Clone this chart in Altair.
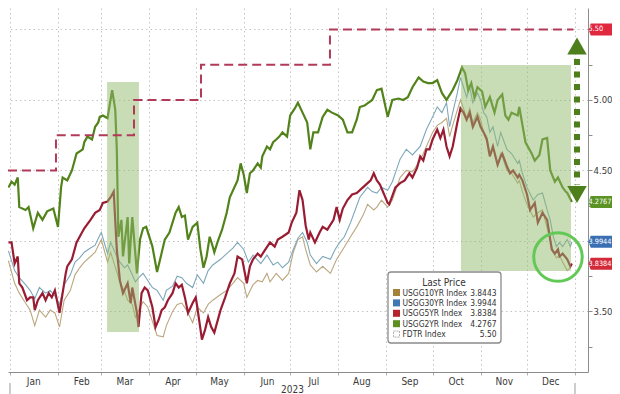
import altair as alt
import pandas as pd

BASE = pd.Timestamp("2023-01-01")
FONT = "Liberation Sans Narrow, DejaVu Sans Condensed, Liberation Sans, sans-serif"

# ---- data: (day of 2023, yield %) -------------------------------------------
usgg2yr = [(-1, 4.38), (1, 4.42), (3, 4.40), (5, 4.45), (6, 4.24), (10, 4.22), (12, 4.24), (15, 4.09),
           (18, 4.20), (21, 4.15), (24, 4.21), (28, 4.23), (31, 4.10), (33, 4.38), (34, 4.45), (37, 4.43),
           (40, 4.50), (43, 4.62), (47, 4.65), (48, 4.70), (50, 4.74), (53, 4.72), (55, 4.81), (57, 4.84),
           (58, 4.88), (60, 4.89), (63, 4.87), (66, 5.07), (68, 4.93), (69, 4.65), (70, 4.03), (72, 4.15),
           (73, 3.89), (76, 4.17), (77, 3.84), (79, 4.17), (80, 4.04), (82, 3.77), (84, 4.01), (86, 4.09),
           (88, 4.10), (92, 3.96), (95, 3.78), (97, 3.87), (100, 4.01), (103, 4.06), (107, 4.20), (109, 4.24),
           (111, 4.17), (113, 4.18), (115, 4.01), (118, 4.10), (121, 4.13), (123, 3.94), (125, 3.81), (127, 3.89),
           (129, 4.03), (131, 3.96), (132, 3.92), (134, 3.99), (137, 4.08), (140, 4.20), (142, 4.31), (147, 4.43),
           (149, 4.55), (151, 4.47), (153, 4.34), (155, 4.48), (157, 4.50), (160, 4.55), (162, 4.52), (163, 4.60),
           (166, 4.67), (168, 4.65), (170, 4.70), (172, 4.72), (174, 4.74), (176, 4.77), (179, 4.74), (181, 4.89),
           (184, 4.94), (186, 4.98), (189, 4.91), (192, 4.84), (194, 4.65), (196, 4.77), (199, 4.77), (202, 4.88),
           (205, 4.93), (208, 4.91), (212, 4.89), (215, 4.86), (218, 4.77), (221, 4.77), (224, 4.86), (226, 4.95),
           (229, 4.96), (234, 5.00), (237, 5.07), (240, 5.08), (244, 4.88), (247, 5.00), (251, 5.01), (254, 5.00),
           (257, 5.02), (260, 5.09), (264, 5.16), (267, 5.13), (270, 5.12), (273, 5.12), (276, 5.14), (279, 5.05),
           (282, 5.00), (286, 5.07), (289, 5.14), (292, 5.23), (294, 5.19), (296, 5.07), (298, 5.12), (300, 5.02),
           (302, 5.09), (305, 5.06), (307, 4.95), (310, 5.02), (313, 4.91), (315, 5.00), (318, 5.04), (320, 4.89),
           (322, 4.86), (324, 4.91), (328, 4.89), (329, 4.95), (333, 4.70), (335, 4.66), (337, 4.62), (339, 4.57),
           (342, 4.61), (344, 4.72), (347, 4.73), (349, 4.50), (352, 4.42), (354, 4.45), (357, 4.38), (359, 4.35),
           (360, 4.34), (363, 4.2767)]

usgg5yr = [(-1, 3.99), (1, 3.99), (3, 3.84), (5, 3.89), (6, 3.70), (8, 3.67), (11, 3.58), (13, 3.60),
           (15, 3.60), (16, 3.51), (18, 3.58), (21, 3.63), (23, 3.58), (25, 3.63), (27, 3.60), (29, 3.65),
           (32, 3.49), (36, 3.77), (37, 3.82), (40, 3.87), (43, 3.99), (45, 4.03), (48, 4.09), (52, 4.15),
           (55, 4.20), (58, 4.22), (60, 4.27), (63, 4.28), (65, 4.31), (67, 4.35), (69, 3.94), (71, 3.72),
           (73, 3.63), (76, 3.70), (78, 3.56), (79, 3.67), (82, 3.49), (83, 3.39), (85, 3.63), (87, 3.67),
           (89, 3.65), (92, 3.53), (94, 3.39), (96, 3.44), (98, 3.51), (100, 3.53), (102, 3.58), (105, 3.63),
           (107, 3.70), (109, 3.67), (111, 3.69), (113, 3.60), (115, 3.49), (118, 3.56), (120, 3.60), (121, 3.53),
           (124, 3.30), (126, 3.37), (128, 3.46), (130, 3.39), (132, 3.35), (136, 3.51), (139, 3.60), (142, 3.70),
           (145, 3.77), (147, 3.89), (150, 3.87), (153, 3.70), (155, 3.82), (157, 3.87), (160, 3.91), (162, 3.89),
           (165, 3.94), (168, 3.99), (171, 3.96), (173, 4.01), (176, 4.03), (180, 4.06), (182, 4.13), (185, 4.20),
           (187, 4.36), (189, 4.29), (191, 4.11), (193, 4.01), (194, 4.06), (197, 3.99), (200, 4.06), (202, 4.10),
           (205, 4.08), (209, 4.15), (211, 4.24), (213, 4.15), (215, 4.23), (218, 4.29), (221, 4.33), (224, 4.34),
           (228, 4.38), (233, 4.43), (235, 4.48), (237, 4.43), (239, 4.40), (244, 4.27), (245, 4.26), (249, 4.38),
           (252, 4.41), (255, 4.43), (258, 4.48), (260, 4.45), (263, 4.52), (265, 4.60), (267, 4.57), (269, 4.65),
           (271, 4.65), (273, 4.72), (276, 4.79), (278, 4.73), (280, 4.79), (282, 4.67), (284, 4.60), (286, 4.67),
           (289, 4.84), (291, 4.94), (293, 4.91), (295, 4.86), (297, 4.91), (299, 4.81), (302, 4.88), (304, 4.81),
           (306, 4.77), (308, 4.72), (310, 4.60), (312, 4.67), (315, 4.54), (317, 4.60), (318, 4.62), (321, 4.53),
           (323, 4.48), (325, 4.50), (328, 4.45), (329, 4.47), (331, 4.43), (334, 4.33), (336, 4.22), (339, 4.27),
           (341, 4.13), (344, 4.20), (347, 4.15), (349, 4.01), (350, 3.94), (352, 3.91), (354, 3.94), (355, 3.89),
           (357, 3.91), (360, 3.87), (362, 3.82), (363, 3.8384)]

usgg30yr = [(-1, 3.93), (3, 3.79), (6, 3.74), (10, 3.69), (13, 3.65), (16, 3.59), (19, 3.67), (23, 3.63),
            (26, 3.65), (29, 3.61), (32, 3.55), (35, 3.69), (39, 3.76), (42, 3.85), (45, 3.88), (48, 3.92),
            (52, 3.95), (55, 3.97), (58, 4.04), (59, 4.06), (63, 3.91), (65, 3.99), (67, 3.94), (69, 3.89),
            (71, 3.85), (74, 3.81), (76, 3.83), (79, 3.76), (81, 3.71), (84, 3.75), (86, 3.77), (89, 3.72),
            (92, 3.67), (95, 3.65), (99, 3.58), (101, 3.65), (105, 3.68), (108, 3.75), (111, 3.74), (114, 3.70),
            (118, 3.67), (121, 3.76), (125, 3.70), (128, 3.79), (131, 3.83), (136, 3.87), (140, 3.91), (144, 3.95),
            (147, 3.99), (151, 3.94), (154, 3.85), (157, 3.90), (162, 3.84), (166, 3.90), (170, 3.83), (173, 3.85),
            (176, 3.81), (180, 3.85), (183, 3.94), (186, 4.02), (189, 4.06), (192, 3.99), (194, 3.90), (198, 3.84),
            (202, 3.89), (207, 3.87), (210, 3.94), (213, 3.99), (216, 4.03), (220, 4.13), (223, 4.22), (226, 4.31),
            (231, 4.38), (234, 4.35), (237, 4.34), (240, 4.38), (244, 4.36), (247, 4.42), (252, 4.58), (256, 4.65),
            (260, 4.61), (265, 4.67), (269, 4.79), (273, 4.88), (276, 4.95), (279, 4.91), (282, 4.98), (284, 4.81),
            (286, 4.91), (289, 5.05), (291, 5.16), (293, 5.09), (295, 5.02), (297, 5.09), (299, 4.98), (302, 5.05),
            (304, 5.00), (306, 4.91), (308, 4.88), (310, 4.77), (312, 4.81), (315, 4.67), (317, 4.77), (318, 4.74),
            (321, 4.65), (324, 4.62), (328, 4.55), (329, 4.57), (331, 4.48), (334, 4.38), (338, 4.29), (341, 4.33),
            (344, 4.34), (347, 4.22), (349, 4.15), (351, 4.03), (353, 3.96), (355, 3.99), (357, 3.96), (360, 4.01),
            (362, 3.96), (363, 3.9944)]

usgg10yr = [(-1, 3.86), (3, 3.70), (6, 3.63), (10, 3.56), (13, 3.51), (16, 3.40), (19, 3.51), (23, 3.46),
            (26, 3.51), (29, 3.49), (32, 3.39), (35, 3.58), (39, 3.65), (42, 3.76), (45, 3.81), (48, 3.85),
            (52, 3.89), (55, 3.92), (58, 3.99), (59, 4.01), (63, 3.85), (65, 3.92), (67, 3.85), (69, 3.78),
            (71, 3.71), (74, 3.64), (76, 3.58), (79, 3.55), (81, 3.46), (84, 3.53), (86, 3.57), (89, 3.53),
            (92, 3.43), (95, 3.33), (99, 3.32), (101, 3.40), (105, 3.50), (108, 3.55), (111, 3.56), (114, 3.51),
            (118, 3.42), (121, 3.53), (125, 3.49), (128, 3.55), (131, 3.58), (136, 3.62), (140, 3.65), (144, 3.70),
            (147, 3.74), (151, 3.70), (153, 3.60), (157, 3.69), (160, 3.72), (163, 3.71), (166, 3.77), (168, 3.71),
            (172, 3.77), (176, 3.72), (180, 3.77), (183, 3.92), (186, 4.01), (189, 4.03), (191, 3.94), (194, 3.83),
            (198, 3.78), (202, 3.82), (207, 3.77), (211, 3.87), (215, 3.94), (220, 4.03), (224, 4.10), (228, 4.18),
            (231, 4.26), (235, 4.22), (237, 4.24), (240, 4.29), (244, 4.24), (247, 4.29), (252, 4.45), (256, 4.50),
            (260, 4.49), (265, 4.57), (269, 4.67), (273, 4.77), (276, 4.82), (279, 4.84), (282, 4.87), (284, 4.74),
            (286, 4.82), (289, 4.93), (291, 5.00), (293, 4.94), (295, 4.87), (297, 4.94), (299, 4.84), (302, 4.91),
            (304, 4.86), (306, 4.77), (308, 4.74), (310, 4.61), (312, 4.67), (315, 4.54), (317, 4.62), (318, 4.60),
            (321, 4.50), (324, 4.48), (328, 4.41), (329, 4.43), (331, 4.35), (334, 4.26), (338, 4.17), (341, 4.20),
            (344, 4.22), (347, 4.09), (349, 4.01), (351, 3.92), (353, 3.88), (355, 3.90), (357, 3.85), (360, 3.79),
            (362, 3.81), (363, 3.8443)]

fdtr = [(-1.3, 4.50), (29.7, 4.75), (80.1, 5.00), (123.4, 5.25), (206.7, 5.50), (364, 5.50)]

# shaded periods: start day, end day, low, high
shade_start = [62.7, 291.3]
shade_end = [83.3, 362.4]
shade_low = [3.355, 3.787]
shade_high = [5.128, 5.248]

# spread arrow (FDTR vs 2yr) and highlight circle
arrow_day = [366.3]
arrow_top = [5.29]
arrow_bottom = [4.40]
arrow_up_at = [5.383]
arrow_down_at = [4.330]
circle_day = [354]
circle_value = [3.886]

# last-price tags on the right
tag_labels = ["5.50", "4.2767", "3.9944", "3.8384"]
tag_values = [5.50, 4.2767, 3.9944, 3.8384]
tag_colors = ["#e0283f", "#5b9424", "#3a6fb4", "#d32a3a"]

# legend
legend_names = ["USGG10YR Index", "USGG30YR Index", "USGG5YR Index", "USGG2YR Index", "FDTR Index"]
legend_values = ["3.8443", "3.9944", "3.8384", "4.2767", "5.50"]
legend_colors = ["#a5823a", "#3f78b5", "#b5232f", "#5c8f1e", "#ffffff"]

year_label = "2023"


def to_df(pairs):
    d = pd.DataFrame(pairs, columns=["day", "value"])
    d["date"] = BASE + pd.to_timedelta(d["day"], unit="D")
    return d[["date", "value"]]


def dt(ts):
    return alt.DateTime(year=ts.year, month=ts.month, date=ts.day, hours=ts.hour, minutes=ts.minute)


x_lo = BASE + pd.Timedelta(days=-1.29)
x_hi = BASE + pd.Timedelta(days=373.4)
xscale = alt.Scale(domain=[dt(x_lo), dt(x_hi)])
yscale = alt.Scale(domain=[3.071, 5.652], nice=False, zero=False)

month_starts = [alt.DateTime(year=2023, month=m, date=1) for m in range(1, 13)] + [alt.DateTime(year=2024, month=1, date=1)]
month_mids = [alt.DateTime(year=2023, month=m, date=16) for m in range(1, 13)]

xaxis = alt.Axis(
    values=month_starts + month_mids,
    labelExpr="date(datum.value) == 1 ? '' : timeFormat(datum.value, '%b')",
    grid=True,
    gridOpacity={"condition": {"test": "date(datum.value) == 1", "value": 1}, "value": 0},
    tickOpacity={"condition": {"test": "date(datum.value) == 1", "value": 1}, "value": 0},
    gridColor="#c4c4c4", gridDash=[1.5, 3], gridWidth=1,
    domainColor="#8c8c8c", tickColor="#b0b0b0", tickSize=3,
    labelFont=FONT, labelFontSize=10, labelColor="#3a3a3a", labelPadding=1,
    labelOverlap=False, labelFlush=False,
    title=year_label, titleFont=FONT, titleFontSize=10, titleFontWeight="normal",
    titleColor="#3a3a3a", titleX=284, titleY=17, titleBaseline="middle", titleAlign="center",
)

yaxis = alt.Axis(
    orient="right",
    values=[3.25, 3.5, 3.75, 4.0, 4.25, 4.5, 4.75, 5.0, 5.25, 5.5],
    labelExpr="(datum.value == 3.5 || datum.value == 4.5 || datum.value == 5) ? format(datum.value, '.2f') : ''",
    grid=True,
    gridOpacity={"condition": {"test": "round(datum.value * 2) == datum.value * 2", "value": 1}, "value": 0},
    gridColor="#c4c4c4", gridDash=[1.5, 3], gridWidth=1,
    domainColor="#8c8c8c", tickColor="#8c8c8c", tickSize=4,
    labelFont=FONT, labelFontSize=9.5, labelColor="#3a3a3a", labelPadding=1,
    labelOverlap=False, labelFlush=False, title=None,
)


def X(field):
    return alt.X(f"{field}:T", scale=xscale, axis=xaxis)


def Y(field):
    return alt.Y(f"{field}:Q", scale=yscale, axis=yaxis)


def series(pairs, color, width):
    return alt.Chart(to_df(pairs)).mark_line(color=color, strokeWidth=width, clip=True).encode(
        x=X("date"), y=Y("value"))


l10 = series(usgg10yr, "#bba77f", 1.1)
l30 = series(usgg30yr, "#7ea7ba", 1.1)
l5 = series(usgg5yr, "#991c33", 2.2)
l2 = series(usgg2yr, "#52821a", 2.2)

fed = alt.Chart(to_df(fdtr)).mark_line(
    color="#b13a58", strokeWidth=2, strokeDash=[9, 5], interpolate="step-after", clip=True
).encode(x=X("date"), y=Y("value"))

shade_df = pd.DataFrame({
    "start": BASE + pd.to_timedelta(shade_start, unit="D"),
    "end": BASE + pd.to_timedelta(shade_end, unit="D"),
    "low": shade_low, "high": shade_high,
})
shade = alt.Chart(shade_df).mark_rect(color="#92b96c", opacity=0.5).encode(
    x=X("start"), x2="end", y=Y("low"), y2="high")

arrow_df = pd.DataFrame({
    "date": BASE + pd.to_timedelta(arrow_day, unit="D"),
    "top": arrow_top, "bottom": arrow_bottom,
    "up": arrow_up_at, "down": arrow_down_at,
})
arrow_line = alt.Chart(arrow_df).mark_rule(color="#4d7f1a", strokeWidth=6, strokeDash=[6, 6.5]).encode(
    x=X("date"), y=Y("top"), y2="bottom")
arrow_up = alt.Chart(arrow_df).mark_point(shape="triangle-up", size=380, filled=True, opacity=1,
                                          color="#4d7f1a").encode(x=X("date"), y=Y("up"))
arrow_down = alt.Chart(arrow_df).mark_point(shape="triangle-down", size=380, filled=True, opacity=1,
                                            color="#4d7f1a").encode(x=X("date"), y=Y("down"))

circle_df = pd.DataFrame({"date": BASE + pd.to_timedelta(circle_day, unit="D"), "value": circle_value})
circle = alt.Chart(circle_df).mark_point(shape="circle", size=2350, filled=False, color="#62c957",
                                         strokeWidth=3, opacity=1).encode(x=X("date"), y=Y("value"))

sep_df = pd.DataFrame({"date": [pd.Timestamp("2023-01-01"), pd.Timestamp("2024-01-01")]})
seps = alt.Chart(sep_df).mark_rule(color="#9a9a9a", strokeWidth=1).encode(
    x=X("date"), y=alt.value(375), y2=alt.value(388))

TAG_PATH = "M-1,0L-0.86,-0.375L1,-0.375L1,0.375L-0.86,0.375Z"
tag_df = pd.DataFrame({"label": tag_labels, "value": tag_values, "color": tag_colors})
tags = alt.Chart(tag_df).mark_point(shape=TAG_PATH, size=1024, filled=True, opacity=1, strokeWidth=0).encode(
    x=alt.value(596.5), y=Y("value"), color=alt.Color("color:N", scale=None))
tag_text = alt.Chart(tag_df).mark_text(align="left", baseline="middle", font=FONT, fontSize=7.3,
                                       color="white").encode(
    x=alt.value(580.5), y=Y("value"), text="label:N")

one = pd.DataFrame({"k": [0]})
legend_layers = [
    alt.Chart(one).mark_rect(fill="white", stroke="#8a8a8a", strokeWidth=1.3, cornerRadius=3).encode(
        x=alt.value(380), x2=alt.value(493), y=alt.value(264), y2=alt.value(335)),
    alt.Chart(one).mark_text(text="Last Price", align="center", baseline="middle", font=FONT,
                             fontSize=10, color="#333333").encode(x=alt.value(436), y=alt.value(275)),
]
for i, (nm, val, col) in enumerate(zip(legend_names, legend_values, legend_colors)):
    yy = 284.5 + i * 10.4
    if col == "#ffffff":
        sw = alt.Chart(one).mark_square(size=36, filled=True, fill="white", stroke="#9a9a9a",
                                        strokeWidth=0.8, strokeDash=[2, 1], opacity=1)
    else:
        sw = alt.Chart(one).mark_square(size=49, filled=True, color=col, opacity=1)
    legend_layers.append(sw.encode(x=alt.value(388.5), y=alt.value(yy)))
    legend_layers.append(alt.Chart(one).mark_text(text=nm, align="left", baseline="middle", font=FONT,
                                                  fontSize=8.4, color="#333333").encode(
        x=alt.value(394.5), y=alt.value(yy)))
    legend_layers.append(alt.Chart(one).mark_text(text=val, align="right", baseline="middle", font=FONT,
                                                  fontSize=8.4, color="#333333").encode(
        x=alt.value(488.5), y=alt.value(yy)))

chart = alt.layer(
    l10, l30, l5, l2, shade, fed, arrow_line, arrow_up, arrow_down, circle, seps, tags, tag_text,
    *legend_layers
).properties(
    width=580, height=364, background="white",
    padding={"left": 0, "top": 0, "right": 24, "bottom": 22},
    autosize=alt.AutoSizeParams(type="none"),
).configure_view(stroke=None)

chart.save("out.html", embed_options={"renderer": "svg", "actions": False})
